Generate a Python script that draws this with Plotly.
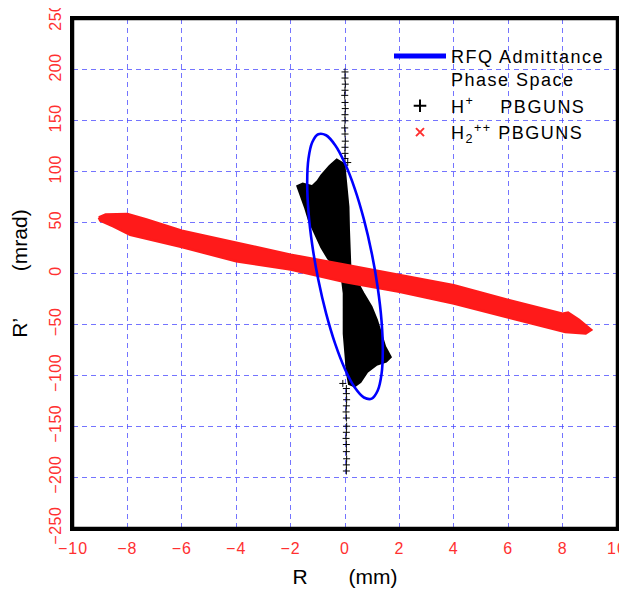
import plotly.graph_objects as go

# ---- data ----
# RFQ admittance ellipse (R in mm, R' in mrad)
ell_r = [1.39, 1.343, 1.204, 0.983, 0.695, 0.360, 0.0, -0.360, -0.695, -0.983, -1.204, -1.343,
         -1.39, -1.343, -1.204, -0.983, -0.695, -0.360, 0.0, 0.360, 0.695, 0.983, 1.204, 1.343, 1.39]
ell_rp = [-75.6, -46.6, -14.0, 20.0, 53.2, 83.2, 108.0, 126.0, 135.8, 136.8, 129.0, 112.9,
          89.6, 60.6, 28.0, -6.0, -39.2, -69.2, -94.0, -112.0, -121.8, -122.9, -115.0, -98.9, -75.6]

# H+ PBGUNS: outline of the dense upper lobe
hp_up_r = [-0.02, -0.3, -0.6, -0.85, -1.08, -1.3, -1.45, -1.6, -1.72, -1.55, -1.2, -1.0,
           -0.85, -0.55, -0.3, -0.05, 0.04, 0.1, 0.12, 0.17, 0.17, -0.02]
hp_up_rp = [2, 6.5, 15, 26, 39.5, 52.5, 65.5, 77, 85.5, 87.5, 85, 90,
            96, 105, 111, 107, 85, 65.5, 42.5, 20, 6.5, 2]
# H+ PBGUNS: outline of the dense lower lobe
hp_lo_r = [0.04, 0.35, 0.65, 0.95, 1.15, 1.3, 1.45, 1.65, 1.5, 1.15, 0.8, 0.55, 0.35,
           0.17, 0.1, 0.04, -0.02, -0.02, -0.02, -0.08, 0.04]
hp_lo_rp = [0, -5, -19.5, -33, -46, -59, -72, -82, -86, -89, -96, -106, -110,
            -108, -98, -78.5, -59, -39.5, -19.5, -6.5, 0]
# H+ PBGUNS: sparse particles along R ~ 0
hp_sp_r = [0.1, 0.0, 0.0, 0.01, 0.0, -0.01, 0.0, 0.01, 0.0, 0.0, -0.01, 0.0, 0.01, 0.0, 0.0, 0.0,
           -0.08, 0.05, 0.05, 0.06, 0.05, 0.04, 0.05, 0.06, 0.05, 0.04, 0.05, 0.05, 0.06, 0.05, 0.05]
hp_sp_rp = [109, 198, 192, 186, 180, 175, 168, 162, 156, 150, 143, 137, 130, 124, 118, 113,
            -108, -113, -118, -124, -130, -136, -142, -150, -156, -162, -168, -175, -182, -188, -194]

# H2++ PBGUNS: outline of the band
h2_r = [-9.05, -8.8, -8.0, -7.3, -6.0, -4.0, -2.0, 0.0, 2.0, 4.0, 6.0, 8.0, 8.2, 8.6, 9.05,
        8.85, 8.1, 6.0, 4.0, 2.0, 0.0, -2.0, -4.0, -6.0, -7.9, -8.5, -9.0, -9.05]
h2_rp = [55, 58, 58.5, 53, 42, 30, 18.5, 8.5, -1.5, -11.5, -26, -39.5, -38.5, -45.5, -55.5,
         -59, -57.5, -43, -29.5, -18, -8.5, 4, 12, 26, 38, 46, 52, 55]

x_ticks = [-10, -8, -6, -4, -2, 0, 2, 4, 6, 8, 10]
y_ticks = [-250, -200, -150, -100, -50, 0, 50, 100, 150, 200, 250]

RED = "#ff3030"
BLUE = "#0000ff"
GRID = "rgba(70,70,255,0.75)"
FONT = "Liberation Sans, Arial, sans-serif"


def lbl(v, spacing):
    s = str(v).replace("-", "\u2212")
    return '<span style="letter-spacing:%spx">%s</span>' % (spacing, s)


def sp(t):
    return '<span style="letter-spacing:1.5px">' + t + '</span>'


fig = go.Figure()

# H+ dense lobes
for xs, ys in ((hp_up_r, hp_up_rp), (hp_lo_r, hp_lo_rp)):
    fig.add_trace(go.Scatter(x=xs, y=ys, mode="lines", fill="toself", fillcolor="black",
                             line=dict(color="black", width=3.5), showlegend=False,
                             hoverinfo="skip"))
fig.add_trace(go.Scatter(x=hp_sp_r, y=hp_sp_rp, mode="markers", showlegend=False,
                         marker=dict(symbol="cross-thin", size=5, color="black",
                                     line=dict(color="black", width=1))))
# H2++ band
fig.add_trace(go.Scatter(x=h2_r, y=h2_rp, mode="lines", fill="toself", fillcolor="#ff1a1a",
                         line=dict(color="#ff1a1a", width=2.5), showlegend=False,
                         hoverinfo="skip"))
# ellipse
fig.add_trace(go.Scatter(x=ell_r, y=ell_rp, mode="lines", line=dict(color=BLUE, width=2.6,
                         shape="spline"), showlegend=False))

# legend entries
fig.add_trace(go.Scatter(x=[None], y=[None], mode="lines", line=dict(color=BLUE, width=5),
                         name=sp("RFQ Admittance") + "<br>" + sp("Phase Space"),
                         legendrank=1))
fig.add_trace(go.Scatter(x=[None], y=[None], mode="markers",
                         marker=dict(symbol="cross-thin", size=9, color="black",
                                     line=dict(color="black", width=2)),
                         name=sp("H<sup>+</sup>&nbsp;&nbsp;&nbsp;&nbsp;PBGUNS"),
                         legendrank=2))
fig.add_trace(go.Scatter(x=[None], y=[None], mode="markers",
                         marker=dict(symbol="x-thin", size=8, color=RED,
                                     line=dict(color=RED, width=2)),
                         name=sp("H<sub>2</sub><sup>++</sup>&nbsp;PBGUNS"),
                         legendrank=3))

# the page adds an 8 px body margin, so the figure is smaller and margins shifted
fig.update_layout(
    width=619, height=580,
    margin=dict(l=65, r=10, t=11, b=60, autoexpand=False),
    paper_bgcolor="white", plot_bgcolor="white",
    font=dict(family=FONT, color="black"),
    showlegend=True,
    legend=dict(x=(381 - 65) / 544, y=1 - (29.7 - 11) / 509, xanchor="left", yanchor="top",
                bgcolor="rgba(0,0,0,0)", font=dict(size=18, family=FONT, color="black"),
                valign="top", tracegroupgap=0, itemwidth=52),
    shapes=[dict(type="rect", xref="paper", yref="paper", x0=0, x1=1, y0=0, y1=1,
                 line=dict(color="black", width=2.5), layer="above")],
)
fig.update_xaxes(range=[-10, 10], tickvals=x_ticks, ticktext=[lbl(v, 1) for v in x_ticks],
                 tickfont=dict(size=16, color=RED, family=FONT), ticks="", automargin=False,
                 ticklabelstandoff=4, ticklabeloverflow="allow",
                 showgrid=True, gridcolor=GRID, griddash="5px,4px", gridwidth=1,
                 zeroline=False, showline=True, linecolor="black", linewidth=2.5, mirror=True,
                 title=dict(text="R&nbsp;&nbsp;&nbsp;&nbsp;&nbsp;&nbsp;&nbsp;(mm)",
                            font=dict(size=21, family=FONT, color="black"), standoff=16))
fig.update_yaxes(range=[-250, 250], tickvals=y_ticks, ticktext=[lbl(v, 0.5) for v in y_ticks],
                 tickfont=dict(size=16, color=RED, family=FONT), ticks="", tickangle=-90,
                 automargin=False, ticklabelstandoff=3, ticklabeloverflow="allow",
                 showgrid=True, gridcolor=GRID, griddash="5px,4px", gridwidth=1,
                 zeroline=False, showline=True, linecolor="black", linewidth=2.5, mirror=True,
                 title=dict(text="R\u2019&nbsp;&nbsp;&nbsp;&nbsp;&nbsp;&nbsp;&nbsp;&nbsp;(mrad)",
                            font=dict(size=21, family=FONT, color="black"), standoff=21))

fig.write_html("out.html")
